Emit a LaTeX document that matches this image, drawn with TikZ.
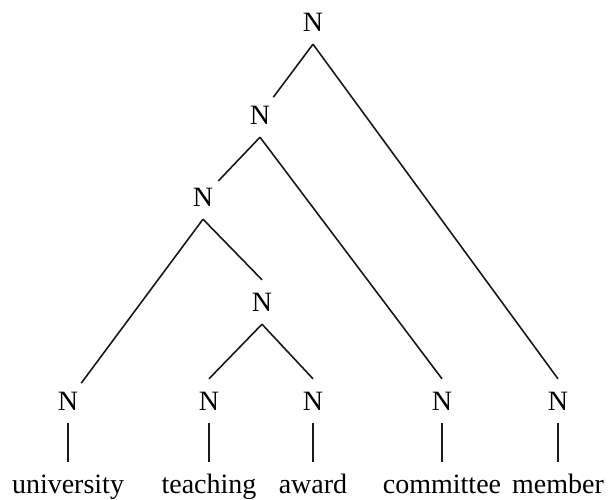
\documentclass[tikz,border=0pt]{standalone}
\usepackage{fontspec}
\setmainfont{Liberation Serif}
\begin{document}
\begin{tikzpicture}[x=1pt,y=-1pt,
  cat/.style={circle,inner sep=0pt,minimum size=44pt,font=\fontsize{28}{32}\selectfont},
  word/.style={inner sep=0pt,anchor=base,text height=31pt,text depth=6pt,font=\fontsize{28}{32}\selectfont},
  edge/.style={line width=1.6pt,draw=black!90}]
\useasboundingbox (0,0) rectangle (608,499);
\node[cat] (top) at (313,22) {N};
\node[cat] (n2) at (260,115) {N};
\node[cat] (n3) at (203,197) {N};
\node[cat] (n4) at (262,302) {N};
\node[cat] (b1) at (68,401) {N};
\node[cat] (b2) at (209,401) {N};
\node[cat] (b3) at (313,401) {N};
\node[cat] (b4) at (442,401) {N};
\node[cat] (b5) at (558,401) {N};
\node[word] (w1) at (68,493) {university};
\node[word] (w2) at (209,493) {teaching};
\node[word] (w3) at (313,493) {award};
\node[word] (w4) at (442,493) {committee};
\node[word] (w5) at (558,493) {member};
\draw[edge] (top.south) -- (n2);
\draw[edge] (top.south) -- (b5.north);
\draw[edge] (n2.south) -- (n3);
\draw[edge] (n2.south) -- (b4.north);
\draw[edge] (n3.south) -- (b1);
\draw[edge] (n3.south) -- (n4.north);
\draw[edge] (n4.south) -- (b2.north);
\draw[edge] (n4.south) -- (b3.north);
\foreach \i in {1,...,5} \draw[edge] (b\i.south) -- (w\i.north);
\end{tikzpicture}
\end{document}
